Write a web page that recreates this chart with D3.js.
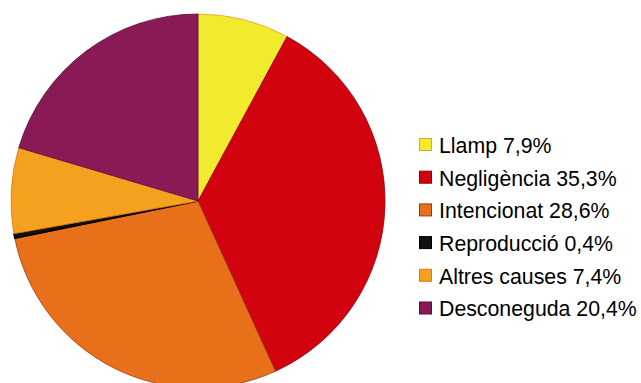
<!DOCTYPE html>
<html>
<head>
<meta charset="utf-8">
<script src="https://cdn.jsdelivr.net/npm/d3@7"></script>
<style>
  body { margin: 0; background: #fff; }
  svg { display: block; }
</style>
</head>
<body>
<svg id="pie"></svg>
<script>
// chart data
var causes = ["Llamp", "Negligència", "Intencionat", "Reproducció", "Altres causes", "Desconeguda"];
var shares = [7.9, 35.3, 28.6, 0.4, 7.4, 20.4];
var labels = ["7,9%", "35,3%", "28,6%", "0,4%", "7,4%", "20,4%"];

var fills = ["#f2ea2c", "#d2020e", "#e8701a", "#111111", "#f3a11e", "#8a1a56"];
var edges = ["#e8a030", "#8a0008", "#9a3a10", "#000000", "#e07a18", "#5a0c38"];

var width = 641, height = 383;
var svg = d3.select("#pie")
    .attr("width", width)
    .attr("height", height);

var data = causes.map((c, i) => ({ cause: c, value: shares[i], label: labels[i], i: i }));

var pie = d3.pie()
    .sort(null)
    .value(d => d.value);

var arc = d3.arc()
    .innerRadius(0)
    .outerRadius(187);

var g = svg.append("g")
    .attr("transform", "translate(198,201)");

g.selectAll("path")
  .data(pie(data))
  .enter()
  .append("path")
    .attr("d", arc)
    .attr("fill", d => fills[d.data.i])
    .attr("stroke", d => edges[d.data.i])
    .attr("stroke-width", d => d.data.i === 3 ? 1.5 : 0.8)
    .attr("stroke-linejoin", "round");

// legend
var legend = svg.append("g")
    .attr("transform", "translate(419,138)");

var row = legend.selectAll("g")
  .data(data)
  .enter()
  .append("g")
    .attr("transform", (d, i) => "translate(0," + (i * 32.7) + ")");

row.append("rect")
    .attr("x", 0.5)
    .attr("y", 0.5)
    .attr("width", 12)
    .attr("height", 12)
    .attr("fill", d => fills[d.i])
    .attr("stroke", d => edges[d.i])
    .attr("stroke-width", 1);

row.append("text")
    .attr("x", 20)
    .attr("y", 14.8)
    .attr("font-family", "Liberation Sans, Arial, sans-serif")
    .attr("font-size", "21.3px")
    .attr("fill", "#000")
    .text(d => d.cause + " " + d.label);
</script>
</body>
</html>
